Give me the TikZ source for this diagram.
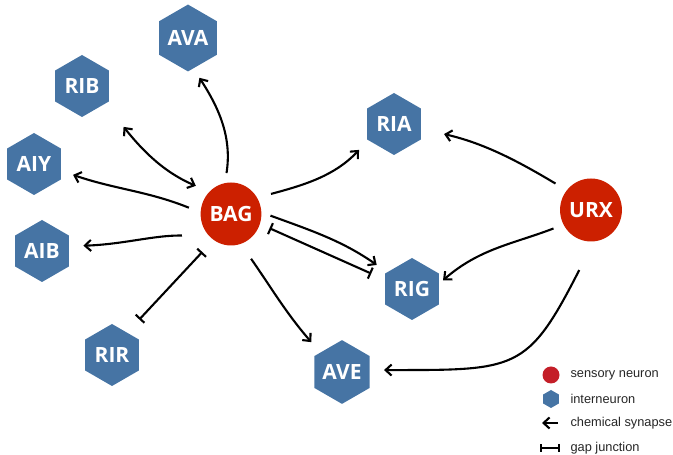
\documentclass[tikz,border=0pt]{standalone}
\usepackage{fontspec}
\setmainfont{Liberation Sans}
\newfontfamily\cellfont{Open Sans}
\usetikzlibrary{arrows.meta,shapes.geometric}
\definecolor{hexblue}{RGB}{70,116,164}
\definecolor{neured}{RGB}{204,32,0}
\definecolor{legred}{RGB}{196,30,40}
\tikzset{
	inter/.style={regular polygon, regular polygon sides=6, shape border rotate=30, fill=hexblue, inner sep=0pt, minimum size=62pt, text=white, font=\cellfont\bfseries\fontsize{21}{21}\selectfont},
	sensory/.style={ellipse, fill=neured, inner sep=0pt, minimum width=57pt, minimum height=63pt, text=white, font=\cellfont\bfseries\fontsize{21}{21}\selectfont},
	barb/.tip={Straight Barb[length=6pt,width=11pt]},
	syn/.style={-barb, line width=2.1pt},
	gapj/.style={{Bar[width=12pt]}-{Bar[width=12pt]}, line width=2.1pt},
	legtext/.style={anchor=west, font=\fontsize{12.8}{14}\selectfont, text=black!85}
}
\begin{document}
\begin{tikzpicture}[x=1pt,y=1pt]
		\useasboundingbox (0,0) rectangle (673,455);
		
		% neurons
		\node[sensory] (BAG) at (231,241) {BAG};
		\node[sensory] (URX) at (591,245) {URX};
		\node[inter] (AVA) at (188,417) {AVA};
		\node[inter] (RIB) at (82,369) {RIB};
		\node[inter] (AIY) at (34,291) {AIY};
		\node[inter] (AIB) at (42,204) {AIB};
		\node[inter] (RIR) at (112,100) {RIR};
		\node[inter] (RIA) at (394,331) {RIA};
		\node[inter] (RIG) at (412,166) {RIG};
		\node[inter] (AVE) at (342,83) {AVE};
		
		% chemical synapses
		\draw[syn,shorten <=10pt,shorten >=11pt] (BAG.101) to[out=81,in=-57] (AVA.-80);
		\draw[syn,barb-barb,shorten <=14.7pt,shorten >=29.5pt] (BAG.134) to[out=157,in=-51] (RIB.-38);
		\draw[syn,shorten <=12.5pt,shorten >=12.7pt] (BAG.177) to[out=158,in=-19] (AIY.-14);
		\draw[syn,shorten <=27pt,shorten >=14.4pt] (BAG.-135) to[out=179,in=2] (AIB.10);
		\draw[syn,shorten <=18pt,shorten >=13.6pt] (BAG.-72) to[out=-55,in=131] (AVE.138);
		\draw[syn,shorten <=14.3pt,shorten >=13.2pt] (BAG.32) to[out=15,in=-133] (RIA.-148);
		\draw[syn,shorten <=9.5pt,shorten >=12.6pt] (BAG.3) to[out=-20,in=145] (RIG.146);
		\draw[syn,shorten <=13pt,shorten >=23.6pt] (URX.141) to[out=149,in=-13] (RIA.-10);
		\draw[syn,shorten <=10.6pt,shorten >=5.3pt] (URX.208) to[out=201,in=41] (RIG.11);
		\draw[syn,shorten <=32pt,shorten >=14.2pt] (URX.-85) to[out=243,in=0,looseness=1.45] (AVE.4);
		
		% gap junctions
		\draw[gapj,shorten <=16.4pt,shorten >=17.8pt] (BAG.236) -- (RIR.56);
		\draw[gapj,shorten <=10.4pt,shorten >=15pt] (BAG.-19) -- (RIG.161);
		
		% legend
		\node[circle, fill=legred, inner sep=0pt, minimum size=17pt] (legdot) at (551,80) {};
		\node[inter, minimum size=18pt] (leghex) at (551,56) {};
		\coordinate (legsynR) at (558,32);
		\coordinate (legsynL) at (542,32);
		\coordinate (leggapL) at (540,7);
		\coordinate (leggapR) at (560,7);
		\draw[syn] (legsynR) -- (legsynL);
		\draw[{Bar[width=8pt]}-{Bar[width=8pt]}, line width=2.1pt] (leggapL) -- (leggapR);
		\node[legtext] (legsens) at (567,80) {sensory neuron};
		\node[legtext] (leginter) at (567,56) {interneuron};
		\node[legtext] (legchem) at (567,32) {chemical synapse};
		\node[legtext] (leggap) at (567,7) {gap junction};
\end{tikzpicture}
\end{document}
